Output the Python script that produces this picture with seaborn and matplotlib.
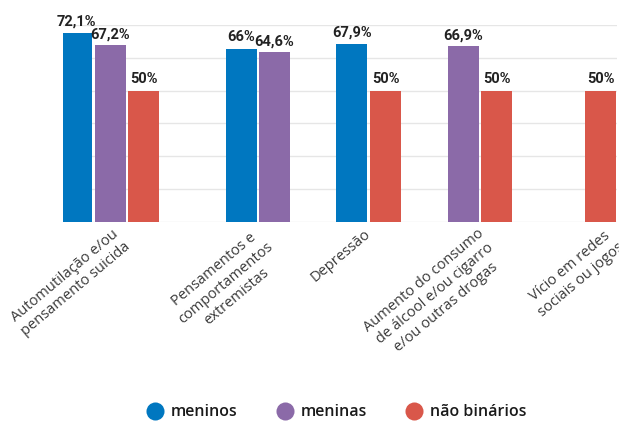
import matplotlib
matplotlib.use("Agg")
import matplotlib.pyplot as plt
import seaborn as sns
import pandas as pd
import numpy as np
from matplotlib.lines import Line2D

# --- data -------------------------------------------------------------
categorias = [
    "Automutilação e/ou\npensamento suicida",
    "Pensamentos e\ncomportamentos\nextremistas",
    "Depressão",
    "Aumento do consumo\nde álcool e/ou cigarro\ne/ou outras drogas",
    "Vício em redes\nsociais ou jogos",
]
grupos = ["meninos", "meninas", "não binários"]
meninos = [72.1, 66.0, 67.9, None, None]
meninas = [67.2, 64.6, None, 66.9, None]
nao_binarios = [50.0, None, 50.0, 50.0, 50.0]

# --- style / layout ---------------------------------------------------
cores = {"meninos": "#0077c0", "meninas": "#8b6aa8", "não binários": "#d9574a"}
centros = [110.2, 257.8, 368.7, 480.2, 600.9]   # centre of each bar cluster
pos_rotulos = [113, 255, 364, 477, 606]         # anchor of each category label
PASSO = 33.5
LARGURA = 31.0

sns.set_theme(style="white")
plt.rcParams["font.family"] = ["Open Sans", "DejaVu Sans"]


def fmt(v):
    s = f"{v:.1f}".replace(".", ",")
    return s[:-2] + "%" if s.endswith(",0") else s + "%"


linhas = []
for i, cat in enumerate(categorias):
    vals = [(g, s[i]) for g, s in zip(grupos, [meninos, meninas, nao_binarios]) if s[i] is not None]
    n = len(vals)
    for k, (g, v) in enumerate(vals):
        linhas.append({"pos": centros[i] + (k - (n - 1) / 2) * PASSO,
                       "valor": v, "grupo": g, "categoria": cat})
df = pd.DataFrame(linhas)

fig = plt.figure(figsize=(6.19, 4.21), dpi=100)
ax = fig.add_axes([63 / 619, 199 / 421, 554 / 619, 197 / 421])

sns.barplot(data=df, x="pos", y="valor", hue="grupo", hue_order=grupos,
            palette=cores, native_scale=True, dodge=False,
            width=LARGURA / PASSO, errorbar=None, legend=False,
            saturation=1, linewidth=0, ax=ax)

for _, r in df.iterrows():
    ax.annotate(fmt(r["valor"]), (r["pos"], r["valor"]), xytext=(0, 3),
                textcoords="offset points", ha="center", va="bottom",
                fontsize=10.5, fontweight="bold", color="#222222",
                family=["Liberation Sans Narrow", "Roboto", "DejaVu Sans"],
                annotation_clip=False)

ax.set_xlim(63, 617)
ax.set_ylim(0, 75)
ax.set_yticks(np.arange(0, 75.1, 12.5))
ax.set_yticklabels([])
ax.grid(axis="y", color="#e6e6e6", linewidth=1)
ax.grid(axis="x", visible=False)
ax.set_axisbelow(True)
for s in ax.spines.values():
    s.set_visible(False)
ax.set_xlabel("")
ax.set_ylabel("")

ax.set_xticks(pos_rotulos)
ax.set_xticklabels(categorias)
ax.tick_params(axis="x", length=0, pad=3)
ax.tick_params(axis="y", length=0)
for t in ax.get_xticklabels():
    t.set_rotation(40)
    t.set_ha("right")
    t.set_va("top")
    t.set_rotation_mode("anchor")
    t.set_multialignment("center")
    t.set_fontsize(10.5)
    t.set_color("#3a3a3a")
    t.set_linespacing(1.2)

handles = [Line2D([], [], marker="o", linestyle="", markersize=13,
                  markerfacecolor=cores[g], markeredgewidth=0) for g in grupos]
fig.legend(handles, grupos, loc="center", bbox_to_anchor=(0.544, 0.021),
           ncol=3, frameon=False, handlelength=1.0, handletextpad=0.45,
           columnspacing=2.5, labelcolor="#1a1a1a",
           prop={"family": ["Open Sans", "DejaVu Sans"],
                 "weight": "semibold", "size": 11.5})

fig.savefig("out.png", dpi=100, facecolor="white")
